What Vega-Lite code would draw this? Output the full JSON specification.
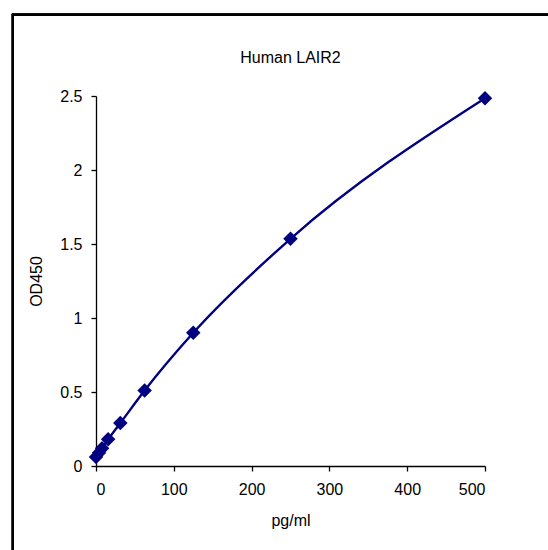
{
  "$schema": "https://vega.github.io/schema/vega-lite/v6.json",
  "autosize": "none",
  "width": 389,
  "height": 370,
  "padding": {"left": 96, "top": 96, "right": 63, "bottom": 84},
  "background": "white",
  "title": {"text": "Human LAIR2", "font": "Liberation Sans", "fontSize": 16, "fontWeight": "normal", "color": "black", "offset": 0, "dy": 52},
  "config": {
    "view": {"stroke": null},
    "axis": {"domainColor": "black", "tickColor": "black", "labelColor": "black", "titleColor": "black", "labelFont": "Liberation Sans", "titleFont": "Liberation Sans", "labelFontSize": 16, "titleFontSize": 16, "titleFontWeight": "normal", "grid": false, "tickSize": 5, "domainWidth": 1.3, "tickWidth": 1.3}
  },
  "data": {"values": [
    {"conc": 0, "od": 0.06},
    {"conc": 3.9, "od": 0.09},
    {"conc": 7.8, "od": 0.12},
    {"conc": 15.6, "od": 0.18},
    {"conc": 31.25, "od": 0.29},
    {"conc": 62.5, "od": 0.51},
    {"conc": 125, "od": 0.9},
    {"conc": 250, "od": 1.535},
    {"conc": 500, "od": 2.485}
  ]},
  "layer": [
    {
      "mark": {"type": "rect", "filled": false, "stroke": "black", "strokeWidth": 1.8, "clip": false},
      "encoding": {
        "x": {"datum": -107, "type": "quantitative", "scale": {"domain": [0, 500], "nice": false}},
        "x2": {"datum": 720},
        "y": {"datum": 3.05, "type": "quantitative", "scale": {"domain": [0, 2.5], "nice": false}},
        "y2": {"datum": -1.2}
      }
    },
    {
      "mark": {"type": "line", "interpolate": "monotone", "color": "#000080", "strokeWidth": 2.4},
      "encoding": {
        "x": {"field": "conc", "type": "quantitative", "scale": {"domain": [0, 500], "nice": false},
              "axis": {"title": "pg/ml", "values": [0, 100, 200, 300, 400, 500], "labelPadding": 10, "titlePadding": 15}},
        "y": {"field": "od", "type": "quantitative", "scale": {"domain": [0, 2.5], "nice": false},
              "axis": {"title": "OD450", "values": [0, 0.5, 1, 1.5, 2, 2.5], "format": "~g", "labelPadding": 9, "titlePadding": 15}}
      }
    },
    {
      "mark": {"type": "point", "shape": "diamond", "filled": true, "color": "#000080", "size": 210, "opacity": 1},
      "encoding": {
        "x": {"field": "conc", "type": "quantitative"},
        "y": {"field": "od", "type": "quantitative"}
      }
    }
  ]
}
